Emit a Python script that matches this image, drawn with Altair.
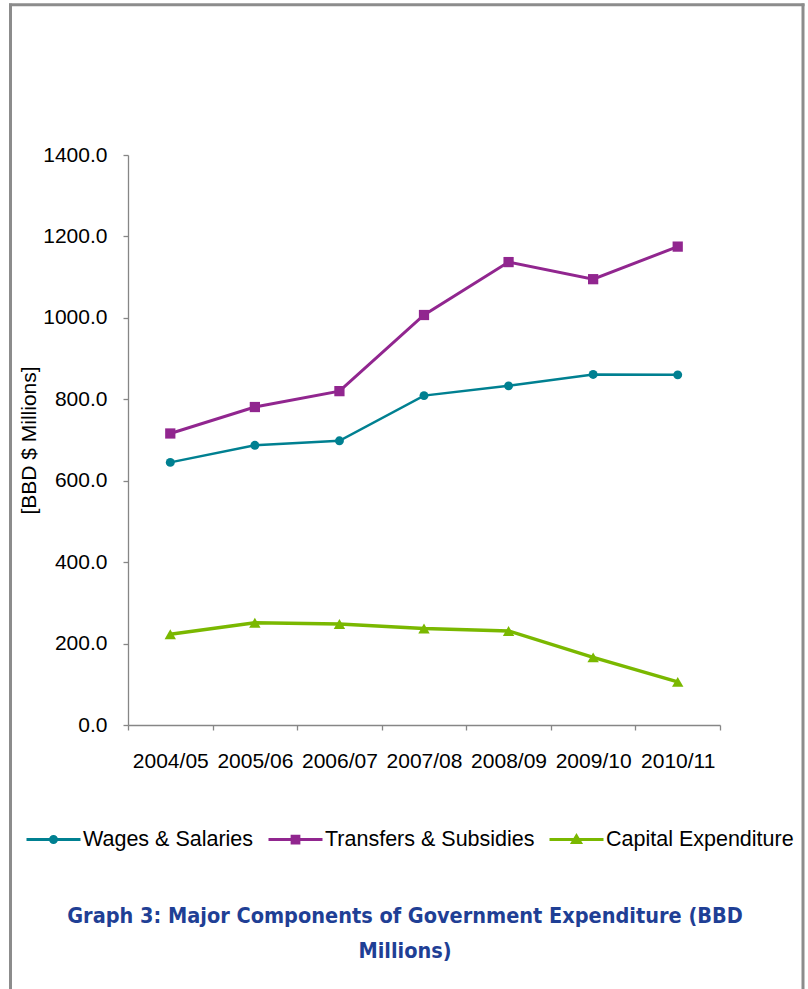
import altair as alt
import pandas as pd

# ---- data ----
periods = ["2004/05", "2005/06", "2006/07", "2007/08", "2008/09", "2009/10", "2010/11"]
wages = [645, 687, 698, 809, 833, 861, 860]
transfers = [716, 781, 820, 1007, 1137, 1095, 1175]
capital = [223, 251, 248, 237, 231, 166, 106]
series = ["Wages & Salaries", "Transfers & Subsidies", "Capital Expenditure"]
y_ticks = [0, 200, 400, 600, 800, 1000, 1200, 1400]
title_text = "Graph 3: Major Components of Government Expenditure (BBD\nMillions)"
y_title = "[BBD $ Millions]"

# ---- styling ----
colors = ["#008091", "#91268F", "#7AB800"]
line_widths = [2.5, 3.5, 3.5]
shapes = ["circle", "square", "triangle-up"]
marker_sizes = [80, 130, 170]
legend_paths = [
    "M-1,0H1M0.11,0A0.11,0.11 0 1,1 -0.11,0A0.11,0.11 0 1,1 0.11,0Z",
    "M-1,0H1M-0.125,-0.125H0.125V0.125H-0.125Z",
    "M-1,0H1M0,-0.13L0.145,0.11H-0.145Z",
]
FONT = "Liberation Sans, Arial, sans-serif"
AXIS_GREY = "#868686"

rows = []
for name, vals in zip(series, [wages, transfers, capital]):
    for p, v in zip(periods, vals):
        rows.append({"period": p, "value": v, "series": name})
df = pd.DataFrame(rows)

x_enc = alt.X(
    "period:N",
    sort=periods,
    scale=alt.Scale(type="band", paddingInner=0, paddingOuter=0),
    axis=alt.Axis(
        title=None, labelAngle=0, tickBand="extent", tickSize=5, labelPadding=20,
        labelFontSize=21, labelFont=FONT, labelColor="black",
        domainColor=AXIS_GREY, tickColor=AXIS_GREY, domainWidth=1.3, tickWidth=1.3,
        grid=False,
    ),
)
y_enc = alt.Y(
    "value:Q",
    scale=alt.Scale(domain=[0, 1400], nice=False, zero=True),
    axis=alt.Axis(
        values=y_ticks, format=".1f", title=y_title,
        titleX=-99, titleY=285, titleAngle=270, titleAlign="center", titleBaseline="middle",
        titleFontSize=21, titleFont=FONT, titleFontWeight="normal", titleColor="black",
        tickSize=5, labelPadding=16, labelFontSize=21, labelFont=FONT, labelColor="black",
        domainColor=AXIS_GREY, tickColor=AXIS_GREY, domainWidth=1.3, tickWidth=1.3,
        grid=False,
    ),
)
color_enc = alt.Color("series:N", scale=alt.Scale(domain=series, range=colors), legend=None)

base = alt.Chart(df)

lines = base.mark_line().encode(
    x=x_enc, y=y_enc, color=color_enc,
    strokeWidth=alt.StrokeWidth("series:N", scale=alt.Scale(domain=series, range=line_widths), legend=None),
)

points = base.mark_point(filled=True, opacity=1).encode(
    x=x_enc, y=y_enc, color=color_enc,
    shape=alt.Shape("series:N", scale=alt.Scale(domain=series, range=shapes), legend=None),
    size=alt.Size("series:O", scale=alt.Scale(domain=series, range=marker_sizes), legend=None),
)

leg = alt.Legend(
    title=None, orient="none", legendX=-103, legendY=656, direction="horizontal",
    symbolSize=2916, symbolStrokeWidth=3, labelFontSize=21.5, labelFont=FONT,
    labelColor="black", labelOffset=1, columnPadding=8, padding=0, labelLimit=0,
)
legend_layer = base.transform_filter("false").mark_point(opacity=1, strokeWidth=3).encode(
    fill=alt.Fill("series:N", scale=alt.Scale(domain=series, range=colors), legend=leg),
    stroke=alt.Stroke("series:N", scale=alt.Scale(domain=series, range=colors), legend=leg),
    shape=alt.Shape("series:N", scale=alt.Scale(domain=series, range=legend_paths), legend=leg),
)

one = alt.Data(values=[{"k": 1}])
title_layer = alt.Chart(one).mark_text(
    font="Liberation Sans Narrow, DejaVu Sans Condensed, Arial Narrow, sans-serif",
    fontSize=21.5, fontWeight="bold", color="#1F3F95", lineBreak="\n", lineHeight=35,
    align="center", baseline="middle",
).encode(x=alt.value(277), y=alt.value(762), text=alt.value(title_text))

BORDER = "#8C8C8C"
border_left = alt.Chart(one).mark_rule(color=BORDER, strokeWidth=3).encode(
    x=alt.value(-117.5), y=alt.value(-151.5), y2=alt.value(840))
border_top = alt.Chart(one).mark_rule(color=BORDER, strokeWidth=3).encode(
    x=alt.value(-119), x2=alt.value(676.5), y=alt.value(-150.3))
border_right = alt.Chart(one).mark_rule(color=BORDER, strokeWidth=3).encode(
    x=alt.value(675), y=alt.value(-151.5), y2=alt.value(840))

chart = alt.layer(
    lines, points, legend_layer, title_layer, border_left, border_top, border_right
).resolve_scale(
    shape="independent", fill="independent", stroke="independent"
).properties(
    width=592, height=570,
    padding={"left": 128, "top": 155, "right": 88, "bottom": 264},
    autosize=alt.AutoSizeParams(type="none"),
    background="white",
).configure_view(stroke=None)

chart.save("out.html", embed_options={"renderer": "svg", "actions": False})
